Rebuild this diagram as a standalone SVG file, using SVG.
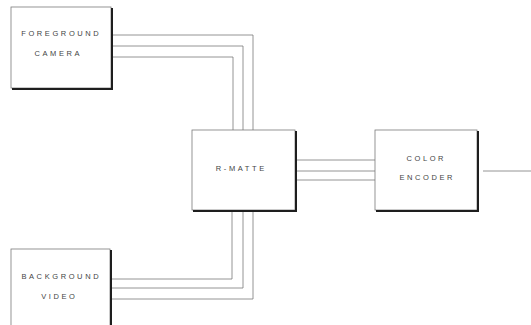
<svg xmlns="http://www.w3.org/2000/svg" width="531" height="325" viewBox="0 0 531 325">
<style>
.box{fill:#fff;stroke:#7a7a7a;stroke-width:0.8}
.shadow{fill:none;stroke:#1e1e1e;stroke-width:2}
.wire{fill:none;stroke:#7a7a7a;stroke-width:0.8}
.lbl{font-family:"Liberation Sans",Arial,sans-serif;font-size:7.5px;letter-spacing:2.6px;fill:#444;text-anchor:middle}
</style>
<rect width="531" height="325" fill="#fff"/>
<g id="connectors">
  <polyline class="wire" points="111,35 253,35 253,130"/>
  <polyline class="wire" points="111,46 243,46 243,130"/>
  <polyline class="wire" points="111,57 233,57 233,130"/>
  <polyline class="wire" points="111,279 232,279 232,211"/>
  <polyline class="wire" points="111,288 243,288 243,211"/>
  <polyline class="wire" points="111,299 253,299 253,211"/>
  <line class="wire" x1="295" y1="160" x2="375" y2="160"/>
  <line class="wire" x1="295" y1="171" x2="375" y2="171"/>
  <line class="wire" x1="295" y1="180" x2="375" y2="180"/>
  <line class="wire" x1="483" y1="171" x2="531" y2="171"/>
</g>
<g id="foreground-camera">
  <rect class="box" x="11" y="7" width="100" height="81"/>
  <polyline class="shadow" points="112,8 112,89 12,89"/>
  <text class="lbl" x="61.3" y="35.5">FOREGROUND</text>
  <text class="lbl" x="58.3" y="55.5">CAMERA</text>
</g>
<g id="r-matte">
  <rect class="box" x="192" y="130" width="103" height="80"/>
  <polyline class="shadow" points="296,131 296,211 193,211"/>
  <text class="lbl" x="241.3" y="170.5">R-MATTE</text>
</g>
<g id="color-encoder">
  <rect class="box" x="375" y="130" width="102" height="80"/>
  <polyline class="shadow" points="478,131 478,211 376,211"/>
  <text class="lbl" x="426.3" y="160.5">COLOR</text>
  <text class="lbl" x="427.3" y="179.5">ENCODER</text>
</g>
<g id="background-video">
  <rect class="box" x="11" y="249" width="99" height="90"/>
  <polyline class="shadow" points="111,250 111,330"/>
  <text class="lbl" x="61.3" y="279">BACKGROUND</text>
  <text class="lbl" x="59.3" y="299">VIDEO</text>
</g>
</svg>
